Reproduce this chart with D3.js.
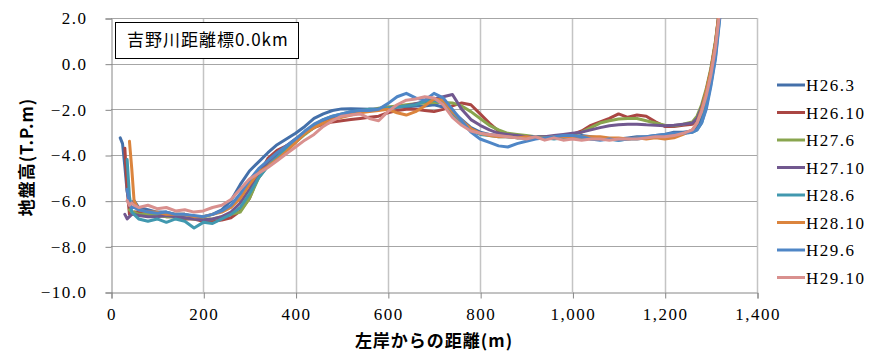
<!DOCTYPE html>
<html>
<head>
<meta charset="utf-8">
<script src="https://cdn.jsdelivr.net/npm/d3@7"></script>
<style>
  body { margin: 0; background: #fff; }
  svg { display: block; }
</style>
</head>
<body>
<svg id="chart" width="871" height="352"></svg>
<script>
// ==============================
// DATA
// ==============================
const distances = [
  20, 25, 30, 35, 40, 45, 50, 60,
  80, 100, 120, 140, 160, 180, 200, 220, 240,
  260, 280, 300, 320, 340, 360, 380, 400, 420, 440, 460, 480, 500,
  520, 540, 560, 580, 600, 620, 640, 660, 680, 700, 720, 740, 760,
  780, 800, 820, 840, 860, 880, 900, 920, 940, 960, 980, 1000,
  1020, 1040, 1060, 1080, 1100, 1120, 1140, 1160, 1180, 1200, 1220, 1240, 1260,
  1270, 1280, 1290, 1300, 1310, 1320
];

const seriesNames = ["H26.3", "H26.10", "H27.6", "H27.10", "H28.6", "H28.10", "H29.6", "H29.10"];
const seriesColors = ["#4470AA", "#AA4643", "#89A54E", "#71588F", "#4198AF", "#DB843D", "#4F86C6", "#D9908E"];

const h26_3 = [
  -3.25, -3.5, -4.5, -5.6, -6.0, -6.1, -6.0, -6.3,
  -6.4, -6.5, -6.5, -6.6, -6.6, -6.7, -6.7, -6.6, -6.4,
  -6.0, -5.3, -4.7, -4.3, -3.9, -3.55, -3.3, -3.05, -2.75, -2.4, -2.2, -2.05, -1.98,
  -1.97, -1.98, -2.0, -2.0, -1.95, -1.9, -1.9, -1.85, -1.85, -1.8, -1.9, -2.1, -2.45,
  -2.8, -3.0, -3.1, -3.15, -3.2, -3.2, -3.2, -3.25, -3.2, -3.25, -3.2, -3.2,
  -3.15, -3.2, -3.25, -3.3, -3.3, -3.25, -3.2, -3.2, -3.15, -3.1, -3.0, -3.0, -2.95,
  -2.8, -2.4, -1.6, -0.6, 0.5, 2.5
];
const h26_10 = [
  null, null, -3.7, -5.5, -6.6, -6.6, -6.5, -6.5,
  -6.6, -6.6, -6.7, -6.7, -6.8, -6.8, -6.9, -6.9, -6.85,
  -6.75, -6.45, -5.9, -4.9, -4.15, -3.8, -3.6, -3.4, -3.05, -2.8, -2.65, -2.55, -2.5,
  -2.45, -2.4, -2.35, -2.3, -2.15, -2.05, -2.0, -2.0, -2.05, -2.1, -2.0, -1.85, -1.72,
  -1.8, -2.2, -2.6, -2.95, -3.1, -3.15, -3.2, -3.2, -3.2, -3.2, -3.15, -3.1,
  -2.95, -2.7, -2.55, -2.4, -2.2, -2.35, -2.25, -2.3, -2.55, -2.75, -2.75, -2.7, -2.65,
  -2.4, -1.9, -1.2, -0.3, 0.9, 2.6
];
const h27_6 = [
  null, null, null, null, -6.4, -6.5, -6.5, -6.6,
  -6.6, -6.65, -6.7, -6.7, -6.75, -6.8, -6.8, -6.8, -6.7,
  -6.6, -6.5, -5.9, -5.0, -4.45, -4.1, -3.75, -3.45, -3.1, -2.8, -2.5, -2.35, -2.25,
  -2.15, -2.1, -2.05, -1.95, -1.9, -1.85, -1.8, -1.75, -1.72, -1.7, -1.7, -1.72, -1.85,
  -2.1, -2.4, -2.7, -2.9, -3.05, -3.1, -3.15, -3.2, -3.2, -3.2, -3.15, -3.1,
  -3.0, -2.8, -2.6, -2.5, -2.42, -2.4, -2.4, -2.5, -2.6, -2.7, -2.72, -2.65, -2.55,
  -2.3, -1.8, -1.1, -0.2, 1.0, 2.6
];
const h27_10 = [
  null, null, -6.6, -6.8, -6.7, -6.6, -6.6, -6.65,
  -6.7, -6.7, -6.65, -6.7, -6.75, -6.8, -6.85, -6.8, -6.7,
  -6.5, -6.1, -5.5, -4.8, -4.3, -3.95, -3.6, -3.3, -3.0, -2.75, -2.5, -2.35, -2.25,
  -2.15, -2.05, -2.0, -1.98, -1.95, -1.9, -1.85, -1.75, -1.65, -1.55, -1.45, -1.35, -2.0,
  -2.45, -2.7, -2.9, -3.05, -3.1, -3.15, -3.2, -3.2, -3.2, -3.15, -3.1, -3.05,
  -3.0, -2.9, -2.8, -2.72, -2.68, -2.65, -2.65, -2.68, -2.7, -2.72, -2.7, -2.65, -2.6,
  -2.4, -1.9, -1.2, -0.3, 0.9, 2.6
];
const h28_6 = [
  null, null, null, -4.2, -5.8, -6.5, -6.6, -6.8,
  -6.9, -6.8, -6.95, -6.8, -6.9, -7.2, -6.95, -7.0, -6.8,
  -6.6, -6.3, -5.7, -5.0, -4.5, -4.1, -3.7, -3.35, -3.0, -2.7, -2.45, -2.3, -2.2,
  -2.1, -2.05, -2.0, -2.0, -1.95, -1.9, -1.85, -1.8, -1.65, -1.6, -1.75, -2.2, -2.6,
  -2.95, -3.1, -3.15, -3.2, -3.2, -3.25, -3.25, -3.2, -3.25, -3.3, -3.25, -3.2,
  -3.25, -3.3, -3.3, -3.3, -3.35, -3.3, -3.3, -3.25, -3.2, -3.15, -3.1, -3.05, -3.0,
  -2.9, -2.6, -1.9, -0.9, 0.3, 2.2
];
const h28_10 = [
  null, null, null, null, -3.4, -4.6, -6.0, -6.4,
  -6.5, -6.5, -6.6, -6.6, -6.6, -6.7, -6.7, -6.6, -6.5,
  -6.3, -5.9, -5.3, -4.75, -4.5, -4.2, -3.85, -3.45, -3.05, -2.8, -2.6, -2.45, -2.35,
  -2.25, -2.15, -2.1, -2.05, -2.0, -2.15, -2.25, -2.1, -1.85, -1.55, -1.6, -2.1, -2.5,
  -2.85, -3.05, -3.15, -3.2, -3.2, -3.25, -3.2, -3.25, -3.25, -3.2, -3.2, -3.2,
  -3.2, -3.2, -3.2, -3.25, -3.25, -3.3, -3.25, -3.3, -3.25, -3.3, -3.25, -3.1, -2.9,
  -2.6, -2.0, -1.2, -0.3, 0.9, 2.6
];
const h29_6 = [
  null, null, null, -5.5, -6.2, -6.3, -6.3, -6.4,
  -6.5, -6.55, -6.5, -6.6, -6.6, -6.65, -6.7, -6.6, -6.45,
  -6.2, -5.7, -5.1, -4.6, -4.25, -3.9, -3.6, -3.3, -2.95, -2.65, -2.45, -2.3, -2.2,
  -2.1, -2.05, -2.05, -2.0, -1.75, -1.45, -1.3, -1.5, -1.6, -1.3, -1.5, -2.0, -2.5,
  -3.0, -3.3, -3.45, -3.6, -3.65, -3.5, -3.4, -3.3, -3.25, -3.2, -3.15, -3.15,
  -3.2, -3.3, -3.35, -3.3, -3.35, -3.3, -3.25, -3.2, -3.15, -3.1, -3.05, -3.05, -3.0,
  -2.9, -2.6, -2.0, -1.0, 0.2, 2.1
];
const h29_10 = [
  null, null, null, -6.0, -6.2, -6.1, -6.2, -6.3,
  -6.2, -6.35, -6.3, -6.45, -6.4, -6.5, -6.45, -6.3, -6.2,
  -5.95, -5.5, -5.05, -4.8, -4.55, -4.25, -3.95, -3.65, -3.35, -3.1, -2.75, -2.5, -2.3,
  -2.25, -2.2, -2.4, -2.5, -2.1, -1.8, -1.6, -1.55, -1.45, -1.5, -1.8, -2.35, -2.7,
  -2.95, -3.05, -3.1, -3.15, -3.2, -3.25, -3.3, -3.2, -3.35, -3.25, -3.35, -3.3,
  -3.35, -3.3, -3.3, -3.35, -3.3, -3.3, -3.3, -3.25, -3.2, -3.2, -3.15, -3.05, -2.9,
  -2.6, -2.1, -1.4, -0.5, 0.7, 2.4
];

const seriesValues = [h26_3, h26_10, h27_6, h27_10, h28_6, h28_10, h29_6, h29_10];

const xTicks = [0, 200, 400, 600, 800, 1000, 1200, 1400];
const yTicks = [-10, -8, -6, -4, -2, 0, 2];

const chartTitle = "吉野川距離標0.0km";
const xTitle = "左岸からの距離(m)";
const yTitle = "地盤高(T.P.m)";

// ==============================
// SVG + SCALES
// ==============================
const svg = d3.select("#chart");

const plot = { left: 111, right: 757, top: 18, bottom: 292 };

const x = d3.scaleLinear().domain([0, 1400]).range([plot.left, plot.right]);
const y = d3.scaleLinear().domain([-10, 2]).range([plot.bottom, plot.top]);

const numFont = "'Liberation Serif', 'DejaVu Serif', serif";
const jpFont = "'Noto Sans CJK JP', sans-serif";

svg.append("defs").append("clipPath")
  .attr("id", "plot-clip")
  .append("rect")
  .attr("x", plot.left)
  .attr("y", plot.top)
  .attr("width", plot.right - plot.left + 1)
  .attr("height", plot.bottom - plot.top);

// ==============================
// GRID
// ==============================
svg.append("g")
  .selectAll("line")
  .data(xTicks.slice(1))
  .join("line")
  .attr("x1", d => Math.round(x(d)) + 0.5)
  .attr("x2", d => Math.round(x(d)) + 0.5)
  .attr("y1", plot.top)
  .attr("y2", plot.bottom)
  .attr("stroke", "#C4C4C4")
  .attr("stroke-width", 1.5);

svg.append("g")
  .selectAll("line")
  .data(yTicks.slice(1))
  .join("line")
  .attr("x1", plot.left)
  .attr("x2", plot.right)
  .attr("y1", d => Math.round(y(d)) + 0.5)
  .attr("y2", d => Math.round(y(d)) + 0.5)
  .attr("stroke", "#A6A6A6")
  .attr("stroke-width", 1);

// ==============================
// AXES
// ==============================
const yAxis = svg.append("g")
  .attr("transform", `translate(${plot.left + 0.5},0.5)`)
  .call(d3.axisLeft(y).tickValues(yTicks).tickSize(6).tickPadding(18).tickFormat(d3.format(".1f")));

const xAxis = svg.append("g")
  .attr("transform", `translate(0.5,${plot.bottom + 0.5})`)
  .call(d3.axisBottom(x).tickValues(xTicks).tickSize(6).tickPadding(9).tickFormat(d3.format(",")));

[yAxis, xAxis].forEach(ax => {
  ax.select(".domain").attr("stroke", "#868686");
  ax.selectAll(".tick line").attr("stroke", "#868686");
  ax.selectAll(".tick text")
    .attr("fill", "#000")
    .style("font-family", numFont)
    .style("font-size", "17px")
    .style("letter-spacing", "1.5px");
});

// ==============================
// LINES
// ==============================
const line = d3.line()
  .defined(d => d[1] !== null)
  .x(d => x(d[0]))
  .y(d => y(d[1]));

const lineGroup = svg.append("g").attr("clip-path", "url(#plot-clip)");

seriesValues.forEach((vals, i) => {
  const pts = distances.map((d, j) => [d, vals[j]]);
  lineGroup.append("path")
    .datum(pts)
    .attr("fill", "none")
    .attr("stroke", seriesColors[i])
    .attr("stroke-width", 3)
    .attr("stroke-linejoin", "round")
    .attr("stroke-linecap", "round")
    .attr("d", line);
});

// ==============================
// TITLE BOX
// ==============================
svg.append("rect")
  .attr("x", 115.5)
  .attr("y", 22.5)
  .attr("width", 183)
  .attr("height", 36)
  .attr("fill", "#fff")
  .attr("stroke", "#000")
  .attr("stroke-width", 1);

svg.append("text")
  .attr("x", 127)
  .attr("y", 46)
  .style("font-family", jpFont)
  .style("font-size", "17px")
  .style("letter-spacing", "1px")
  .text(chartTitle);

// ==============================
// LEGEND
// ==============================
const legend = svg.append("g");
seriesNames.forEach((name, i) => {
  const ly = 85 + i * 27.5;
  legend.append("line")
    .attr("x1", 777).attr("x2", 805)
    .attr("y1", ly).attr("y2", ly)
    .attr("stroke", seriesColors[i])
    .attr("stroke-width", 3);
  legend.append("text")
    .attr("x", 806)
    .attr("y", ly + 6)
    .style("font-family", numFont)
    .style("font-size", "17px")
    .style("letter-spacing", "1.5px")
    .text(name);
});

// ==============================
// AXIS TITLES
// ==============================
svg.append("text")
  .attr("x", 434)
  .attr("y", 347)
  .attr("text-anchor", "middle")
  .style("font-family", jpFont)
  .style("font-weight", "bold")
  .style("font-size", "17px")
  .style("letter-spacing", "1px")
  .text(xTitle);

svg.append("text")
  .attr("transform", "translate(33,157) rotate(-90)")
  .attr("text-anchor", "middle")
  .style("font-family", jpFont)
  .style("font-weight", "bold")
  .style("font-size", "17px")
  .style("letter-spacing", "1px")
  .text(yTitle);
</script>
</body>
</html>
